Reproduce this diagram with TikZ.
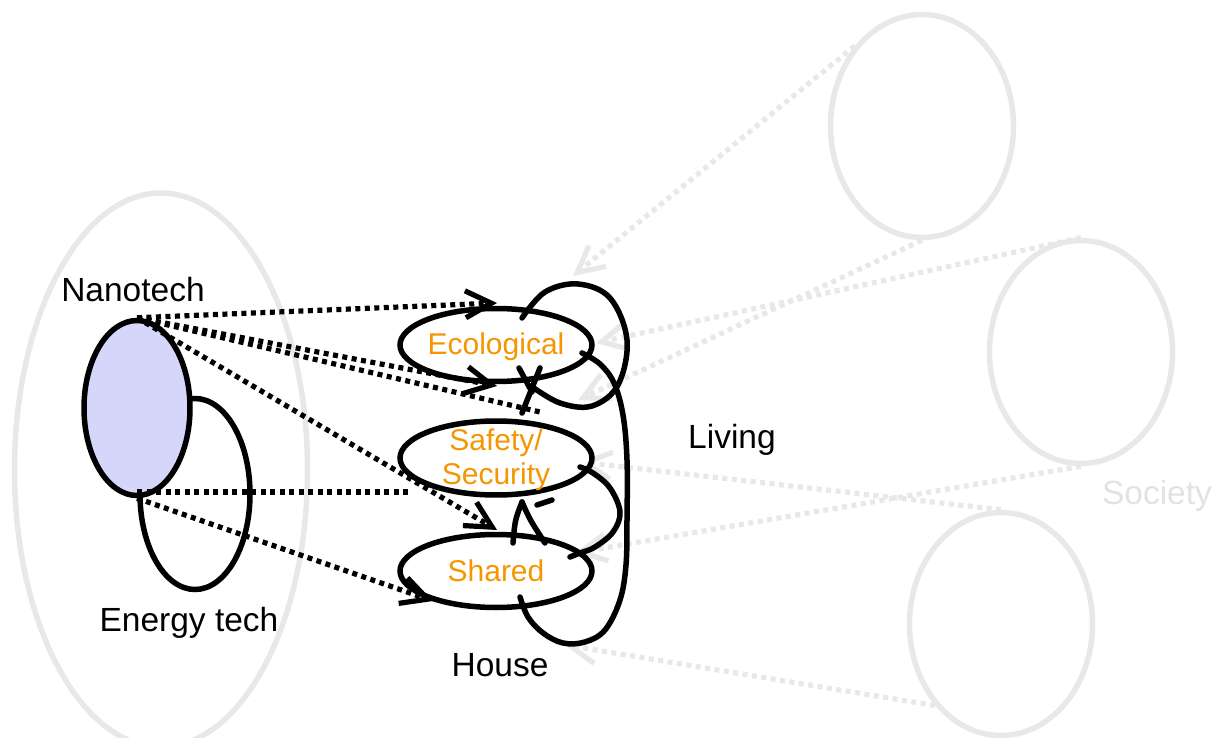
\documentclass[tikz,border=0pt]{standalone}
\usepackage{fontspec}
\setmainfont{Liberation Sans}
\usetikzlibrary{shapes.geometric,arrows.meta}
\definecolor{lav}{RGB}{214,214,250}
\definecolor{org}{RGB}{245,150,0}
\definecolor{lgray}{RGB}{232,232,232}
\definecolor{sgray}{RGB}{226,226,226}
\begin{document}
\begin{tikzpicture}[x=1pt,y=-1pt,
  ell/.style={ellipse,draw,line width=5.5pt,inner sep=0pt,fill=white},
  gell/.style={ellipse,draw=lgray,line width=5.5pt,inner sep=0pt},
  lbl/.style={font=\fontsize{33.5}{38}\selectfont,inner sep=0pt},
  olbl/.style={font=\fontsize{30}{34}\selectfont,text=org,inner sep=0pt,align=center},
  dots/.style={line width=5.2pt,dash pattern=on 5pt off 4.5pt},
  gdots/.style={draw=lgray,line width=5.2pt,dash pattern=on 5pt off 4.5pt},
  solidline/.style={line width=5.5pt,line cap=round},
  tipb/.style={-{Straight Barb[length=26pt,width=27pt]}},
]
\useasboundingbox (0,0) rectangle (1219,738);
\clip (0,0) rectangle (1219,738);
% gray background shapes
\node[gell,minimum width=293pt,minimum height=554pt] (gbig) at (161,470) {};
\node[gell,minimum width=183pt,minimum height=223pt] (g1) at (922,126) {};
\node[gell,minimum width=183pt,minimum height=223pt] (g2) at (1081,352) {};
\node[gell,minimum width=183pt,minimum height=223pt] (g3) at (1001,624) {};
\node[lbl,text=sgray] (soc) at (1157,496) {Society};
% gray connectors
\coordinate (t1) at (573,276);
\coordinate (t2) at (578,400);
\coordinate (t3) at (596,343);
\coordinate (t4) at (575,553);
\coordinate (t5) at (580,462);
\coordinate (t6) at (565,645);
\draw[gdots,tipb] (g1.130) -- (t1);
\draw[gdots,tipb] (g1.south) -- (t2);
\draw[gdots,tipb] (g2.north) -- (t3);
\draw[gdots,tipb] (g2.south) -- (t4);
\draw[gdots,tipb] (g3.north) -- (t5);
\draw[gdots,tipb] (g3.231) -- (t6);
% left ellipses
\node[ell,minimum width=110pt,minimum height=191pt] (energy) at (195,494) {};
\node[ell,fill=lav,minimum width=106pt,minimum height=175pt] (nano) at (137,408) {};
\node[lbl] (nanot) at (133,290) {Nanotech};
\node[lbl] (energyt) at (189,623) {Energy tech};
% house ellipses
\node[ell,minimum width=192pt,minimum height=73pt] (eco) at (496,345) {};
\node[ell,minimum width=192pt,minimum height=74pt] (safe) at (496,458) {};
\node[ell,minimum width=192pt,minimum height=73pt] (shared) at (496,571) {};
\node[olbl] (ecot) at (496,347) {Ecological};
\node[olbl] (safet) at (496,460) {Safety/\\Security};
\node[olbl] (sharedt) at (shared) {Shared};
\node[lbl] (living) at (732,440) {Living};
\node[lbl] (house) at (500,665) {House};
% dotted connectors from Nanotech
\coordinate (a1) at (497,303);
\coordinate (a2) at (497,386);
\coordinate (a3) at (540,412);
\coordinate (a4) at (497,530);
\coordinate (a5) at (410,492);
\coordinate (a6) at (433,601);
\draw[dots,tipb] (nano.north) -- (a1);
\draw[dots,tipb] (nano.north) -- (a2);
\draw[dots] (nano.north) -- (a3);
\draw[dots,tipb] (nano.north) -- (a4);
\draw[dots] (nano.south |- a5) -- (a5);
\draw[dots,tipb] (nano.south) -- (a6);
% solid loops among house ellipses
\draw[solidline] plot[smooth,tension=0.6] coordinates {(522,318) (545,292) (578,284) (610,298) (627,340) (618,385) (592,406) (560,403) (531,386)};
\draw[solidline] plot[smooth,tension=0.6] coordinates {(582,353) (600,364) (614,383) (623,415) (627,460) (627,520) (626,565) (620,600) (605,630) (585,642) (563,643) (543,633) (528,617) (520,597)};
\draw[solidline] plot[smooth,tension=0.6] coordinates {(580,467) (593,473) (610,488) (620,512) (613,532) (595,547) (580,553) (570,557)};
\draw[solidline] (522,413) -- (540,368);
\draw[solidline] (519,368) -- (532,392);
\draw[solidline] (513,543) .. controls (515,520) .. (522,502);
\draw[solidline] (522,502) .. controls (530,520) .. (545,543);
\draw[solidline] (537,505) -- (552,500);
\end{tikzpicture}
\end{document}
